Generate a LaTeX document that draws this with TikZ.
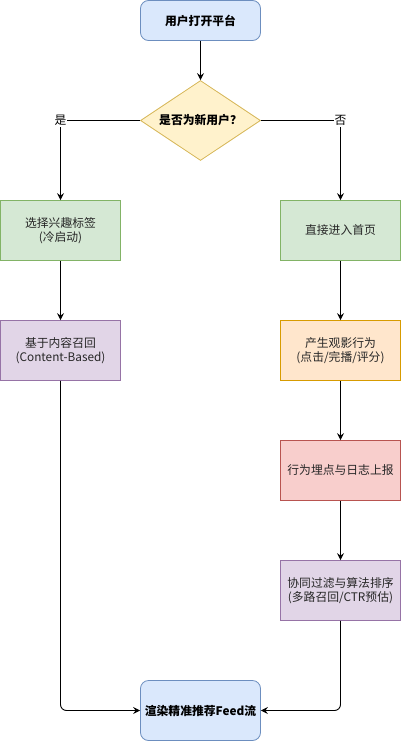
\documentclass[tikz,border=0pt]{standalone}
\usepackage{fontspec}
\setmainfont{Noto Sans CJK SC}
\usetikzlibrary{shapes.geometric,arrows.meta}
\definecolor{bfill}{HTML}{DAE8FC}\definecolor{bline}{HTML}{6C8EBF}
\definecolor{yfill}{HTML}{FFF2CC}\definecolor{yline}{HTML}{D6B656}
\definecolor{gfill}{HTML}{D5E8D4}\definecolor{gline}{HTML}{82B366}
\definecolor{pfill}{HTML}{E1D5E7}\definecolor{pline}{HTML}{9673A6}
\definecolor{ofill}{HTML}{FFE6CC}\definecolor{oline}{HTML}{D79B00}
\definecolor{rfill}{HTML}{F8CECC}\definecolor{rline}{HTML}{B85450}
\begin{document}
\begin{tikzpicture}[x=1pt,y=-1pt,
  every node/.style={font=\fontsize{11.8}{14.5}\selectfont, text=black!85, align=center, inner sep=0pt, line width=0.8pt},
  box/.style={rectangle, minimum width=120pt, minimum height=60pt},
  rbox/.style={box, rounded corners=8pt, font=\fontsize{11.8}{14.5}\selectfont\bfseries, text=black},
  arr/.style={draw=black, line width=0.9pt, -{Stealth[length=7pt,width=7pt,inset=2.5pt]}, rounded corners=6pt},
  lbl/.style={fill=white, inner sep=1pt, font=\fontsize{11.8}{14.5}\selectfont, text=black}]
\useasboundingbox (0,0) rectangle (401,741);
\node[rbox, minimum height=40pt, fill=bfill, draw=bline] (start) at (200.5,20.5) {用户打开平台};
\node[diamond, aspect=1.5, minimum width=120pt, minimum height=80pt, inner sep=0pt, fill=yfill, draw=yline, font=\fontsize{11.8}{14.5}\selectfont\bfseries, text=black] (dec) at (200.5,120.5) {是否为新用户？};
\node[box, fill=gfill, draw=gline] (cold) at (60.5,230.5) {选择兴趣标签\\(冷启动)};
\node[box, fill=gfill, draw=gline] (home) at (340.5,230.5) {直接进入首页};
\node[box, fill=pfill, draw=pline] (cb) at (60.5,350.5) {基于内容召回\\(Content-Based)};
\node[box, fill=ofill, draw=oline] (view) at (340.5,350.5) {产生观影行为\\(点击/完播/评分)};
\node[box, fill=rfill, draw=rline] (log) at (340.5,470.5) {行为埋点与日志上报};
\node[box, fill=pfill, draw=pline] (cf) at (340.5,590.5) {协同过滤与算法排序\\(多路召回/CTR预估)};
\node[rbox, fill=bfill, draw=bline] (feed) at (200.5,710.5) {渲染精准推荐Feed流};
\draw[arr] (start) -- (dec);
\draw[arr, rounded corners=0pt] (dec.west) -| node[lbl, pos=0.5] {是} (cold.north);
\draw[arr, rounded corners=0pt] (dec.east) -| node[lbl, pos=0.5] {否} (home.north);
\draw[arr] (cold) -- (cb);
\draw[arr] (home) -- (view);
\draw[arr] (view) -- (log);
\draw[arr] (log) -- (cf);
\draw[arr] (cb.south) |- (feed.west);
\draw[arr] (cf.south) |- (feed.east);
\end{tikzpicture}
\end{document}
